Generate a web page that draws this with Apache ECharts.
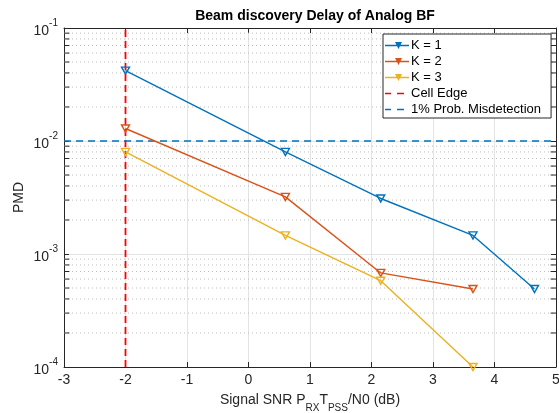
<!DOCTYPE html>
<html><head><meta charset="utf-8">
<script src="https://cdn.jsdelivr.net/npm/echarts@6/dist/echarts.min.js"></script>
<style>html,body{margin:0;padding:0;background:#fff}#c{width:559px;height:413px}</style>
</head><body><div id="c"></div>
<script>
const snrK1 = [-2, 0.6, 2.15, 3.65, 4.65];
const pmdK1 = [0.042, 0.008, 0.0031, 0.00146, 0.00049];
const snrK23 = [-2, 0.6, 2.15, 3.65];
const pmdK2 = [0.0129, 0.0032, 0.00068, 0.00049];
const pmdK3 = [0.008, 0.00146, 0.00058, 0.0001];
const cellEdgeSnr = -2;
const misdetectProb = 0.01;
const seriesNames = ['K = 1', 'K = 2', 'K = 3', 'Cell Edge', '1% Prob. Misdetection'];
const xMin = -3, xMax = 5, yMin = 1e-4, yMax = 1e-1;

const FONT = 'Liberation Sans, Arial, Helvetica, sans-serif';
const AX = '#262626';
const C1 = '#0072BD', C2 = '#D95319', C3 = '#EDB120', CR = '#FF0000';

const minorVals = [];
for (let e = -4; e < -1; e++) for (let m = 2; m <= 9; m++) minorVals.push(m * Math.pow(10, e));
const tickLen = (xMax - xMin) * 0.011;

const tri = 'path://M0,0 L10,0 L5,8.66 Z';
const lineTriIcon = 'path://M0,4.3 L24,4.3 L24,5.7 L0,5.7 Z M10,1.5 L17,1.5 L13.5,8.5 Z';
const dashIcon = 'path://M0,4.2 L6,4.2 L6,5.8 L0,5.8 Z M12,4.2 L19,4.2 L19,5.8 L12,5.8 Z M23.98,5 L24,5 L24,5.02 Z';
function zip(xs, ys) { return xs.map((x, i) => [x, ys[i]]); }
function kSeries(name, xs, ys, color) {
  return {
    name, type: 'line', data: zip(xs, ys), clip: false,
    symbol: tri, symbolSize: [8, 7],
    itemStyle: { color: 'rgba(255,255,255,0)', borderColor: color, borderWidth: 1.4 },
    lineStyle: { color, width: 1.4 },
    z: 5
  };
}
const helper = [];
minorVals.forEach(v => {
  helper.push({ type: 'line', data: [[xMin, v], [xMax, v]], symbol: 'none', silent: true, z: 1,
    lineStyle: { color: '#bdbdbd', width: 1, type: [1, 3] } });
  helper.push({ type: 'line', data: [[xMin, v], [xMin + tickLen, v]], symbol: 'none', silent: true, z: 2,
    lineStyle: { color: AX, width: 1 } });
  helper.push({ type: 'line', data: [[xMax - tickLen, v], [xMax, v]], symbol: 'none', silent: true, z: 2,
    lineStyle: { color: AX, width: 1 } });
});

const legendColors = [C1, C2, C3, CR, C1];
const legendIcons = [lineTriIcon, lineTriIcon, lineTriIcon, dashIcon, dashIcon];

const chart = echarts.init(document.getElementById('c'));
chart.setOption({
  animation: false,
  backgroundColor: '#fff',
  textStyle: { fontFamily: FONT },
  title: {
    text: 'Beam discovery Delay of Analog BF', left: 310, top: 4, textAlign: 'center',
    textStyle: { fontFamily: FONT, fontSize: 14, fontWeight: 'bold', color: '#000' }
  },
  grid: { left: 64, top: 28, right: 3, bottom: 46, containLabel: false, outerBoundsMode: 'none' },
  legend: {
    data: seriesNames.map((n, i) => ({
      name: n, icon: legendIcons[i],
      itemStyle: { color: legendColors[i], borderWidth: 0, opacity: 1 }
    })),
    orient: 'vertical', left: 383, top: 34,
    backgroundColor: '#fff', borderColor: AX, borderWidth: 1,
    padding: [5, 10, 2, 2], itemGap: 3, itemWidth: 24, itemHeight: 10,
    textStyle: { fontFamily: FONT, fontSize: 13, color: '#000', padding: [0, 0, 0, -3] }
  },
  xAxis: [{
    type: 'value', min: xMin, max: xMax, interval: 1,
    axisLine: { onZero: false, lineStyle: { color: AX, width: 1 } },
    axisTick: { inside: true, length: 5, lineStyle: { color: AX } },
    axisLabel: { color: AX, fontSize: 14, margin: 6, fontFamily: FONT },
    splitLine: { show: true, lineStyle: { color: '#e3e3e3', width: 1 } },
    name: '{n|Signal SNR P}{s|RX}{n|T}{s|PSS}{n|/N0 (dB)}', nameLocation: 'middle', nameGap: 26,
    nameMoveOverlap: false,
    nameTextStyle: {
      rich: {
        n: { fontSize: 14, color: AX, fontFamily: FONT, lineHeight: 20, verticalAlign: 'top' },
        s: { fontSize: 10, color: AX, fontFamily: FONT, lineHeight: 10, verticalAlign: 'bottom' }
      }
    }
  }, {
    type: 'value', min: xMin, max: xMax, interval: 1, position: 'top',
    axisLine: { onZero: false, lineStyle: { color: AX, width: 1 } },
    axisTick: { inside: true, length: 5, lineStyle: { color: AX } },
    axisLabel: { show: false }, splitLine: { show: false }
  }],
  yAxis: [{
    type: 'log', logBase: 10, min: yMin, max: yMax,
    axisLine: { show: true, onZero: false, lineStyle: { color: AX, width: 1 } },
    axisTick: { inside: true, length: 5, lineStyle: { color: AX } },
    axisLabel: {
      margin: 6, color: AX,
      formatter: v => '{b|10}{s|' + Math.round(Math.log10(v)) + '}',
      rich: {
        b: { fontSize: 14, color: AX, fontFamily: FONT, lineHeight: 20, verticalAlign: 'bottom' },
        s: { fontSize: 10, color: AX, fontFamily: FONT, lineHeight: 10, verticalAlign: 'top' }
      }
    },
    splitLine: { show: true, lineStyle: { color: '#e3e3e3', width: 1 } },
    name: 'PMD', nameLocation: 'middle', nameGap: 38, nameRotate: 90, nameMoveOverlap: false,
    nameTextStyle: { fontSize: 14, color: AX, fontFamily: FONT }
  }, {
    type: 'log', logBase: 10, min: yMin, max: yMax, position: 'right',
    axisLine: { show: true, onZero: false, lineStyle: { color: AX, width: 1 } },
    axisTick: { inside: true, length: 5, lineStyle: { color: AX } },
    axisLabel: { show: false }, splitLine: { show: false }
  }],
  series: helper.concat([
    kSeries(seriesNames[0], snrK1, pmdK1, C1),
    kSeries(seriesNames[1], snrK23, pmdK2, C2),
    kSeries(seriesNames[2], snrK23, pmdK3, C3),
    {
      name: seriesNames[3], type: 'line', data: [[cellEdgeSnr, yMin], [cellEdgeSnr, yMax]],
      symbol: 'none', z: 4, itemStyle: { color: CR },
      lineStyle: { color: CR, width: 1.8, type: [7, 4] }
    },
    {
      name: seriesNames[4], type: 'line', data: [[xMin, misdetectProb], [xMax, misdetectProb]],
      symbol: 'none', z: 4, itemStyle: { color: C1 },
      lineStyle: { color: C1, width: 1.6, type: [7, 5] }
    }
  ])
});
</script></body></html>
